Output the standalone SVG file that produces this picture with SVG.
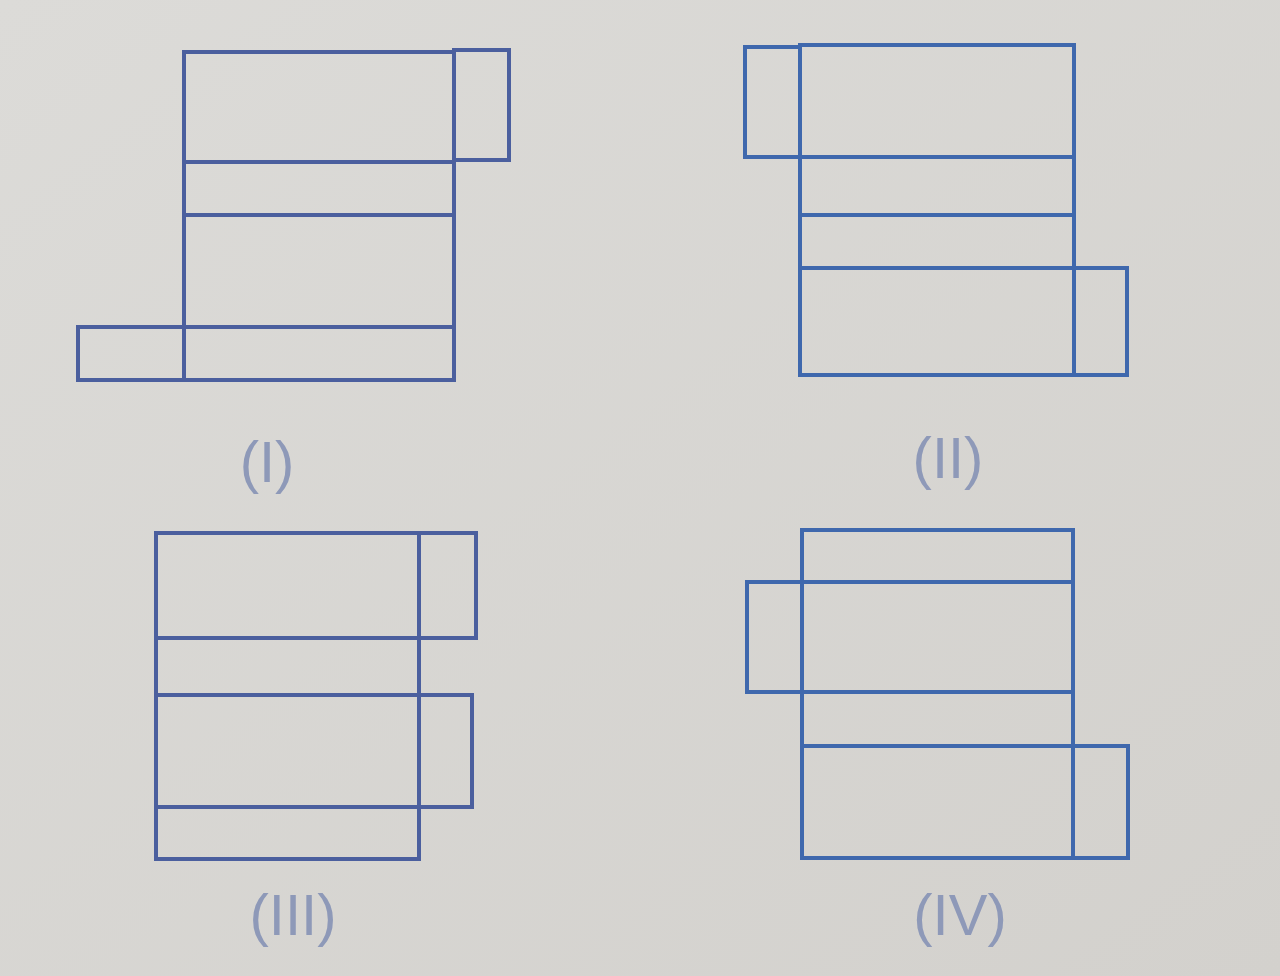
<svg xmlns="http://www.w3.org/2000/svg" width="1280" height="976" viewBox="0 0 1280 976">
  <defs>
    <linearGradient id="bg" x1="0" y1="0" x2="1" y2="1">
      <stop offset="0" stop-color="#dcdbd8"/>
      <stop offset="1" stop-color="#d3d1cd"/>
    </linearGradient>
  </defs>
  <style>
    .ln { fill: none; stroke: #4b5f9e; stroke-width: 4; stroke-linecap: square; stroke-linejoin: miter; }
    .ln2 { fill: none; stroke: #3f68ad; stroke-width: 4; stroke-linecap: square; }
    .lbl { font-family: "Liberation Sans", Arial, sans-serif; font-size: 58px; fill: #8e99b8; text-anchor: middle; }
  </style>
  <rect x="0" y="0" width="1280" height="976" fill="url(#bg)"/>

  <g id="net-I">
    <rect class="ln" x="184" y="52" width="270" height="328"/>
    <line class="ln" x1="184" y1="162" x2="454" y2="162"/>
    <line class="ln" x1="184" y1="215" x2="454" y2="215"/>
    <line class="ln" x1="184" y1="327" x2="454" y2="327"/>
    <rect class="ln" x="454" y="50" width="55" height="110"/>
    <rect class="ln" x="78" y="327" width="106" height="53"/>
    <text class="lbl" x="267" y="482">(I)</text>
  </g>

  <g id="net-II">
    <rect class="ln2" x="800" y="45" width="274" height="330"/>
    <line class="ln2" x1="800" y1="157" x2="1074" y2="157"/>
    <line class="ln2" x1="800" y1="215" x2="1074" y2="215"/>
    <line class="ln2" x1="800" y1="268" x2="1074" y2="268"/>
    <rect class="ln2" x="745" y="47" width="55" height="110"/>
    <rect class="ln2" x="1074" y="268" width="53" height="107"/>
    <text class="lbl" x="948" y="478">(II)</text>
  </g>

  <g id="net-III">
    <rect class="ln" x="156" y="533" width="263" height="326"/>
    <line class="ln" x1="156" y1="638" x2="419" y2="638"/>
    <line class="ln" x1="156" y1="695" x2="419" y2="695"/>
    <line class="ln" x1="156" y1="807" x2="419" y2="807"/>
    <rect class="ln" x="419" y="533" width="57" height="105"/>
    <rect class="ln" x="419" y="695" width="53" height="112"/>
    <text class="lbl" x="293" y="935">(III)</text>
  </g>

  <g id="net-IV">
    <rect class="ln2" x="802" y="530" width="271" height="328"/>
    <line class="ln2" x1="802" y1="582" x2="1073" y2="582"/>
    <line class="ln2" x1="802" y1="692" x2="1073" y2="692"/>
    <line class="ln2" x1="802" y1="746" x2="1073" y2="746"/>
    <rect class="ln2" x="747" y="582" width="55" height="110"/>
    <rect class="ln2" x="1073" y="746" width="55" height="112"/>
    <text class="lbl" x="960" y="935">(IV)</text>
  </g>

  <g id="connectors"/>
</svg>
